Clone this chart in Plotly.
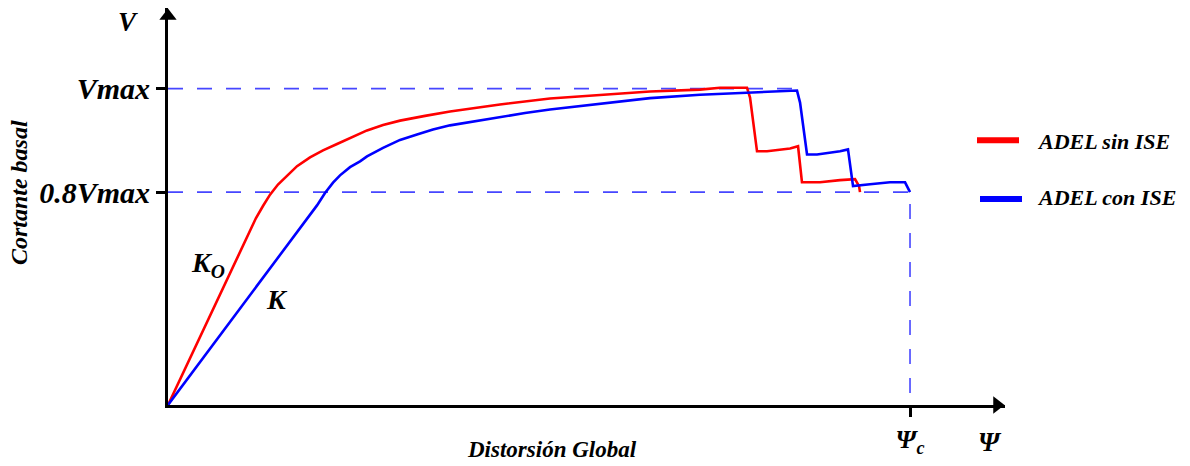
import plotly.graph_objects as go

# Global drift, normalised to the collapse drift Psi_c
drift_sin_ise = [0.0, 0.1105, 0.1186, 0.1280, 0.1375, 0.1482, 0.1604, 0.1739, 0.1914,
                 0.2089, 0.2278, 0.2453, 0.2682, 0.2898, 0.3127, 0.3464, 0.3801, 0.4137,
                 0.4474, 0.5148, 0.5822, 0.6496, 0.7170, 0.7439, 0.7803, 0.7844, 0.7938,
                 0.8073, 0.8383, 0.8491, 0.8544, 0.8787, 0.9057, 0.9259, 0.9313, 0.9326]
# Base shear, normalised to Vmax
shear_sin_ise = [0.0, 0.555, 0.591, 0.629, 0.665, 0.697, 0.725, 0.755, 0.783,
                 0.805, 0.825, 0.844, 0.868, 0.885, 0.899, 0.914, 0.928, 0.939,
                 0.950, 0.969, 0.981, 0.991, 0.997, 1.003, 1.003, 0.972, 0.802,
                 0.802, 0.811, 0.818, 0.704, 0.704, 0.711, 0.714, 0.692, 0.673]

drift_con_ise = [0.0, 0.1873, 0.2008, 0.2116, 0.2224, 0.2318, 0.2453, 0.2588, 0.2682,
                 0.2898, 0.3127, 0.3356, 0.3571, 0.3801, 0.4030, 0.4474, 0.4811, 0.5148,
                 0.5822, 0.6496, 0.7170, 0.7803, 0.8073, 0.8477, 0.8518, 0.8612, 0.8747,
                 0.9057, 0.9164, 0.9218, 0.9232, 0.9461, 0.9730, 0.9933, 0.9973, 1.0]
shear_con_ise = [0.0, 0.588, 0.631, 0.670, 0.703, 0.726, 0.752, 0.770, 0.786,
                 0.813, 0.838, 0.855, 0.871, 0.884, 0.893, 0.912, 0.923, 0.934,
                 0.953, 0.970, 0.981, 0.987, 0.991, 0.994, 0.956, 0.792, 0.792,
                 0.802, 0.808, 0.714, 0.692, 0.698, 0.704, 0.704, 0.682, 0.673]

# Reference levels and labels
V_MAX = 1.0
V_LIM = 0.673          # level of the "0.8Vmax" reference line
PSI_C = 1.0
V_MAX_END = 0.8477     # drift where the Vmax reference line stops
y_tick_vals = [V_LIM, V_MAX]
y_tick_text = ["0.8Vmax", "Vmax"]
x_tick_vals = [PSI_C]
x_tick_text = ["Ψ<sub>c</sub>"]
series_names = ["ADEL sin ISE", "ADEL con ISE"]
series_colors = ["#ff0000", "#0000ff"]

X_MAX = 1.128
Y_MAX = 1.255
FONT = "Liberation Serif, Times New Roman, serif"
DASH_COLOR = "#4646ff"

# plot area spans from the origin (168, 407) to the arrow tips
L, T, R, B = 168, 8, 1190 - 1005, 466 - 407
PW, PH = 1190 - L - R, 466 - T - B


def px(xp):
    return (xp - L) / PW


def py(yp):
    return (466 - B - yp) / PH


def tfont(size):
    return dict(family=FONT, size=size, color="black", style="italic", weight="bold")


fig = go.Figure()

# dashed reference lines
fig.add_trace(go.Scatter(x=[0, V_MAX_END], y=[V_MAX, V_MAX], mode="lines",
                         line=dict(color=DASH_COLOR, width=1.6, dash="15px,14px"),
                         showlegend=False, hoverinfo="skip", cliponaxis=False))
fig.add_trace(go.Scatter(x=[0, PSI_C, PSI_C], y=[V_LIM, V_LIM, 0], mode="lines",
                         line=dict(color=DASH_COLOR, width=1.6, dash="15px,14px"),
                         showlegend=False, hoverinfo="skip", cliponaxis=False))

# capacity curves
fig.add_trace(go.Scatter(x=drift_sin_ise, y=shear_sin_ise, mode="lines", name=series_names[0],
                         line=dict(color=series_colors[0], width=2.6),
                         showlegend=False, cliponaxis=False))
fig.add_trace(go.Scatter(x=drift_con_ise, y=shear_con_ise, mode="lines", name=series_names[1],
                         line=dict(color=series_colors[1], width=2.6),
                         showlegend=False, cliponaxis=False))

# arrow heads at the ends of both axes (set back a few pixels so the tips meet the ends)
ARROW_BACK = 8
fig.add_trace(go.Scatter(x=[X_MAX - ARROW_BACK * X_MAX / PW], y=[0], mode="markers",
                         showlegend=False, hoverinfo="skip", cliponaxis=False,
                         marker=dict(symbol="triangle-right", size=15, color="black")))
fig.add_trace(go.Scatter(x=[0], y=[Y_MAX - ARROW_BACK * Y_MAX / PH], mode="markers",
                         showlegend=False, hoverinfo="skip", cliponaxis=False,
                         marker=dict(symbol="triangle-up", size=15, color="black")))

annotations = [
    # axis symbols and titles
    dict(x=px(128), y=py(22), xref="paper", yref="paper", text="V", showarrow=False,
         font=tfont(27), xanchor="center", yanchor="middle"),
    dict(x=px(990), y=py(444), xref="paper", yref="paper", text="Ψ", showarrow=False,
         font=tfont(27), xanchor="center", yanchor="middle"),
    dict(x=px(552), y=py(452), xref="paper", yref="paper", text="Distorsión Global",
         showarrow=False, font=tfont(23), xanchor="center", yanchor="middle"),
    dict(x=px(19), y=py(194), xref="paper", yref="paper", text="Cortante basal",
         showarrow=False, font=tfont(24), textangle=-90, xanchor="center", yanchor="middle"),
    # stiffness labels
    dict(x=px(208), y=py(266), xref="paper", yref="paper", text="K<sub>O</sub>",
         showarrow=False, font=tfont(28), xanchor="center", yanchor="middle"),
    dict(x=px(277), y=py(301), xref="paper", yref="paper", text="K",
         showarrow=False, font=tfont(28), xanchor="center", yanchor="middle"),
    # legend labels
    dict(x=px(1035), y=py(142), xref="paper", yref="paper", text=series_names[0],
         showarrow=False, font=tfont(22), xanchor="left", yanchor="middle"),
    dict(x=px(1035), y=py(198), xref="paper", yref="paper", text=series_names[1],
         showarrow=False, font=tfont(22), xanchor="left", yanchor="middle"),
]

# legend swatches
shapes = [
    dict(type="line", xref="paper", yref="paper", x0=px(977), x1=px(1019), y0=py(141), y1=py(141),
         line=dict(color=series_colors[0], width=6)),
    dict(type="line", xref="paper", yref="paper", x0=px(980), x1=px(1022), y0=py(200), y1=py(200),
         line=dict(color=series_colors[1], width=6)),
]

fig.update_layout(
    width=1190, height=466,
    margin=dict(l=L, r=R, t=T, b=B, pad=0),
    paper_bgcolor="white", plot_bgcolor="white",
    showlegend=False,
    annotations=annotations,
    shapes=shapes,
    xaxis=dict(range=[0, X_MAX], showgrid=False, zeroline=False, showline=True,
               linecolor="black", linewidth=3, ticks="outside", ticklen=9, tickwidth=2.5,
               tickcolor="black", tickvals=x_tick_vals, ticktext=x_tick_text,
               tickfont=tfont(26), fixedrange=True),
    yaxis=dict(range=[0, Y_MAX], showgrid=False, zeroline=False, showline=True,
               linecolor="black", linewidth=3, ticks="outside", ticklen=9, tickwidth=2.5,
               tickcolor="black", tickvals=y_tick_vals, ticktext=y_tick_text,
               tickfont=tfont(30), fixedrange=True),
)

fig.write_html("out.html")
